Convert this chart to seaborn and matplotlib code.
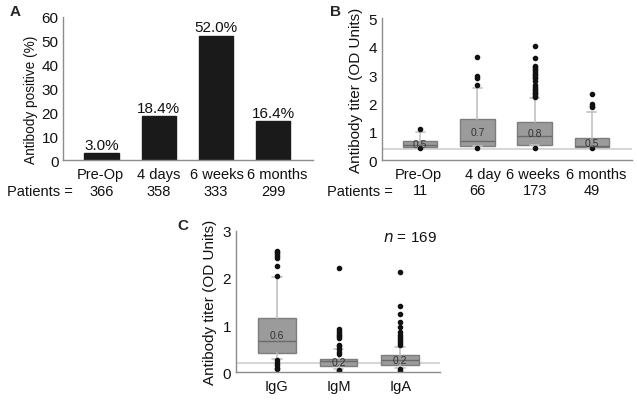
import matplotlib
matplotlib.use("Agg")
import matplotlib.pyplot as plt
import matplotlib.transforms as mtransforms
from matplotlib.ticker import MultipleLocator
import seaborn as sns
import pandas as pd

# ---------------- data ----------------
# Panel A
a_categories = ["Pre-Op", "4 days", "6 weeks", "6 months"]
a_values = [3.0, 18.4, 52.0, 16.4]
a_labels = ["3.0%", "18.4%", "52.0%", "16.4%"]
a_patients = ["366", "358", "333", "299"]

# Panel B
b_categories = ["Pre-Op", "4 day", "6 weeks", "6 months"]
b_patients = ["11", "66", "173", "49"]
b_q1 = [0.45, 0.50, 0.54, 0.45]
b_med = [0.52, 0.68, 0.85, 0.50]
b_q3 = [0.66, 1.45, 1.36, 0.77]
b_whislo = [0.45, 0.50, 0.54, 0.45]
b_whishi = [1.00, 2.56, 2.18, 1.71]
b_fliers = [
    [1.08, 0.43],
    [3.64, 2.96, 2.88, 2.65, 0.44],
    [4.03, 3.60, 3.33, 3.28, 3.22, 3.17, 3.12, 3.05, 3.00, 2.94, 2.88, 2.80,
     2.65, 2.58, 2.52, 2.47, 2.42, 2.37, 2.32, 2.27, 2.23, 0.44],
    [2.33, 1.97, 1.92, 1.88, 0.43],
]
b_median_text = ["0.5", "0.7", "0.8", "0.5"]
b_cutoff = 0.39

# Panel C
c_categories = ["IgG", "IgM", "IgA"]
c_q1 = [0.40, 0.14, 0.16]
c_med = [0.66, 0.23, 0.25]
c_q3 = [1.16, 0.28, 0.37]
c_whislo = [0.28, 0.06, 0.10]
c_whishi = [2.01, 0.49, 0.54]
c_fliers = [
    [2.58, 2.54, 2.50, 2.47, 2.43, 2.26, 2.05, 0.25, 0.20, 0.15, 0.10, 0.06],
    [2.20, 0.92, 0.88, 0.84, 0.80, 0.76, 0.72, 0.58, 0.55, 0.50, 0.42, 0.38,
     0.04, 0.02],
    [2.12, 1.40, 1.24, 1.06, 0.95, 0.85, 0.80, 0.75, 0.70, 0.66, 0.62, 0.58,
     0.06, 0.03],
]
c_median_text = ["0.6", "0.2", "0.2"]
c_cutoff = 0.2
c_n_text = "= 169"

# ---------------- style ----------------
sns.set_theme(style="white")
plt.rcParams["font.family"] = ["Liberation Sans", "DejaVu Sans"]
FS = 11
TFS = 10.5
TXT = "#111111"
SPINE = "#8c8c8c"
BOXFACE = "#9b9b9b"
BOXEDGE = "#7d7d7d"
MEDCOL = "#6a6a6a"
WHISK = "#c2c2c2"
CUTCOL = "#cfcfcf"

fig = plt.figure(figsize=(6.37, 4.02), dpi=100)
axA = fig.add_axes([0.0994, 0.599, 0.392, 0.357])
axB = fig.add_axes([0.5997, 0.5995, 0.392, 0.352])
axC = fig.add_axes([0.3705, 0.0714, 0.320, 0.3522])


def style_axis(ax):
    for s in ["top", "right"]:
        ax.spines[s].set_visible(False)
    for s in ["left", "bottom"]:
        ax.spines[s].set_color(SPINE)
        ax.spines[s].set_linewidth(1.0)
    ax.tick_params(axis="both", which="both", colors=SPINE, labelcolor=TXT,
                   labelsize=TFS, width=0.8)
    ax.tick_params(axis="y", which="major", direction="inout", length=3, pad=2,
                   labelsize=FS)
    ax.tick_params(axis="y", which="minor", direction="inout", length=3)
    ax.tick_params(axis="x", which="major", direction="out", length=3, pad=2)
    ax.grid(False)


def shift_ticklabels(ax, shifts_px):
    for lab, dx in zip(ax.get_xticklabels(), shifts_px):
        if dx:
            lab.set_transform(lab.get_transform() + mtransforms.ScaledTranslation(
                dx / 100.0, 0, fig.dpi_scale_trans))


# ---------------- Panel A ----------------
dfA = pd.DataFrame({"cat": a_categories, "val": a_values})
sns.barplot(data=dfA, x="cat", y="val", ax=axA, color="#1a1a1a",
            saturation=1, width=0.6, edgecolor="#1a1a1a")
for i, p in enumerate(axA.patches):
    axA.text(p.get_x() + p.get_width() / 2, p.get_height() + 0.6, a_labels[i],
             ha="center", va="bottom", fontsize=FS, color=TXT)
axA.set_xlim(-0.67, 3.7)
axA.set_ylim(0, 60)
axA.yaxis.set_major_locator(MultipleLocator(10))
axA.yaxis.set_minor_locator(MultipleLocator(5))
axA.set_xlabel("")
axA.set_ylabel("Antibody positive (%)", fontsize=9.8, color=TXT)
axA.yaxis.set_label_coords(-0.103, 0.43)
style_axis(axA)
shift_ticklabels(axA, [-1, 0, 1, 4])
trA = mtransforms.blended_transform_factory(axA.transData, axA.transAxes)
for i, n in enumerate(a_patients):
    axA.text(i, -0.215, n, transform=trA, ha="center", va="center", fontsize=TFS,
             color=TXT)
fig.text(7 / 637, 1 - 192 / 402, "Patients =", ha="left", va="center",
         fontsize=TFS, color=TXT)
fig.text(10 / 637, 1 - 12 / 402, "A", ha="left", va="center", fontsize=FS,
         fontweight="bold")


# ---------------- box helper ----------------
def draw_boxes(ax, q1, med, q3, wlo, whi, fliers, texts, width):
    stats = []
    for i in range(len(q1)):
        stats.append(dict(q1=q1[i], med=med[i], q3=q3[i], whislo=wlo[i],
                          whishi=whi[i], fliers=fliers[i]))
    pos = list(range(len(q1)))
    ax.bxp(stats, positions=pos, widths=width, patch_artist=True,
           showfliers=True, manage_ticks=False,
           boxprops=dict(facecolor=BOXFACE, edgecolor=BOXEDGE, linewidth=1.0),
           medianprops=dict(color=MEDCOL, linewidth=1.0),
           whiskerprops=dict(color=WHISK, linewidth=1.2),
           capprops=dict(color=WHISK, linewidth=1.2),
           capwidths=0.16,
           flierprops=dict(marker="o", markerfacecolor=TXT,
                           markeredgecolor=TXT, markersize=3.0))
    for i, t in enumerate(texts):
        ax.text(i, (q1[i] + q3[i]) / 2, t, ha="center", va="center",
                fontsize=7.5, color="#333333", zorder=5)


# ---------------- Panel B ----------------
axB.axhline(b_cutoff, color=CUTCOL, linewidth=1.2, zorder=0)
draw_boxes(axB, b_q1, b_med, b_q3, b_whislo, b_whishi, b_fliers,
           b_median_text, 0.6)
axB.set_xlim(-0.67, 3.7)
axB.set_ylim(0, 5)
axB.set_xticks(range(len(b_categories)))
axB.set_xticklabels(b_categories)
axB.yaxis.set_major_locator(MultipleLocator(1))
axB.yaxis.set_minor_locator(MultipleLocator(0.5))
axB.set_ylabel("Antibody titer (OD Units)", fontsize=FS, labelpad=4, color=TXT)
style_axis(axB)
shift_ticklabels(axB, [-2, 6, -2, 4])
trB = mtransforms.blended_transform_factory(axB.transData, axB.transAxes)
for i, n in enumerate(b_patients):
    axB.text(i, -0.215, n, transform=trB, ha="center", va="center", fontsize=TFS,
             color=TXT)
fig.text(327 / 637, 1 - 192 / 402, "Patients =", ha="left", va="center",
         fontsize=TFS, color=TXT)
fig.text(330 / 637, 1 - 12 / 402, "B", ha="left", va="center", fontsize=FS,
         fontweight="bold")

# ---------------- Panel C ----------------
axC.axhline(c_cutoff, color=CUTCOL, linewidth=1.2, zorder=0)
draw_boxes(axC, c_q1, c_med, c_q3, c_whislo, c_whishi, c_fliers,
           c_median_text, 0.61)
axC.set_xlim(-0.66, 2.64)
axC.set_ylim(0, 3)
axC.set_xticks(range(len(c_categories)))
axC.set_xticklabels(c_categories)
axC.yaxis.set_major_locator(MultipleLocator(1))
axC.yaxis.set_minor_locator(MultipleLocator(0.2))
axC.set_ylabel("Antibody titer (OD Units)", fontsize=FS, labelpad=4, color=TXT)
style_axis(axC)
axC.text(0.985, 0.955, r"$\it{n}$ " + c_n_text, transform=axC.transAxes,
         ha="right", va="center", fontsize=FS, color=TXT)
fig.text(177 / 637, 1 - 226 / 402, "C", ha="left", va="center", fontsize=FS,
         fontweight="bold")

fig.savefig("out.png", dpi=100)
